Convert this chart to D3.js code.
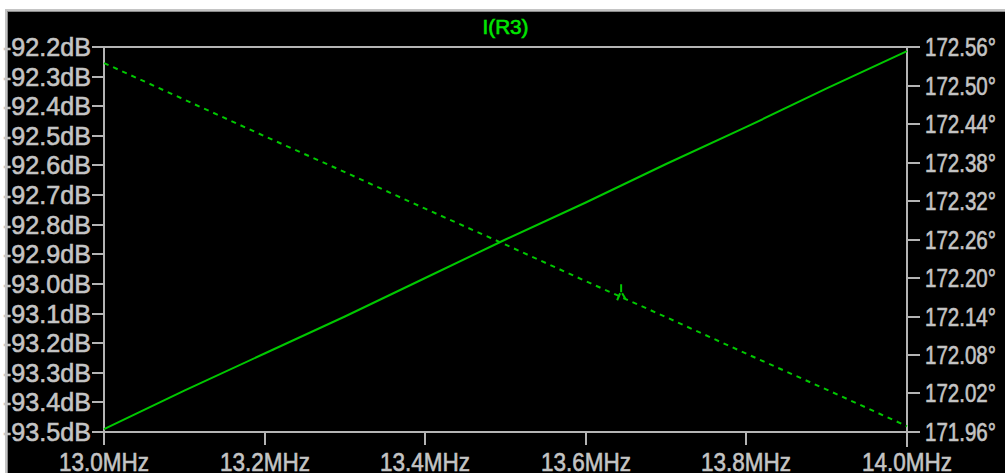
<!DOCTYPE html>
<html>
<head>
<meta charset="utf-8">
<script src="https://cdn.jsdelivr.net/npm/d3@7/dist/d3.min.js"></script>
<style>
  html, body { margin: 0; padding: 0; background: #ffffff; overflow: hidden; }
  svg { display: block; }
  text { font-family: "Liberation Sans", Arial, sans-serif; }
</style>
</head>
<body>
<script>
// AC sweep of I(R3): magnitude (dB, left axis, solid) and phase (deg, right axis, dashed)
const freqMHz   = [13.0, 13.1, 13.2, 13.3, 13.4, 13.5, 13.6, 13.7, 13.8, 13.9, 14.0];
const magDb     = [-93.49, -93.36, -93.235, -93.11, -92.98, -92.85, -92.725, -92.595, -92.47, -92.34, -92.214];
const phaseDeg  = [172.535, 172.478, 172.421, 172.365, 172.308, 172.252, 172.195, 172.139, 172.082, 172.026, 171.969];

// small glitch drawn on the phase trace
const glitchFreq  = 13.644;
const glitchPhase = 172.170;

const xTicks      = [13.0, 13.2, 13.4, 13.6, 13.8, 14.0];
const xTickLabels = ["13.0MHz", "13.2MHz", "13.4MHz", "13.6MHz", "13.8MHz", "14.0MHz"];
const magTicks    = [-92.2, -92.3, -92.4, -92.5, -92.6, -92.7, -92.8, -92.9, -93.0, -93.1, -93.2, -93.3, -93.4, -93.5];
const phaseTicks  = [172.56, 172.50, 172.44, 172.38, 172.32, 172.26, 172.20, 172.14, 172.08, 172.02, 171.96];
const traceTitle  = "I(R3)";

const W = 1005, H = 473;
const plot = { left: 104, right: 907, top: 47, bottom: 432 };

const axisGrey = "#b4b4b4";
const textGrey = "#c4c4c4";
const traceGreen = "#00c800";
const titleGreen = "#00e600";

const svg = d3.select("body").append("svg")
  .attr("width", W).attr("height", H);

// window frame
svg.append("rect").attr("x", 0).attr("y", 0).attr("width", W).attr("height", H).attr("fill", "#ffffff");
svg.append("rect").attr("x", 5).attr("y", 9).attr("width", W).attr("height", H)
  .attr("fill", "#c4c4c4");
svg.append("rect").attr("x", 7).attr("y", 11).attr("width", W).attr("height", H)
  .attr("fill", "#8a8a8a");
svg.append("rect").attr("x", 8).attr("y", 12).attr("width", W).attr("height", H)
  .attr("fill", "#000000");

const x = d3.scaleLinear().domain([13.0, 14.0]).range([plot.left, plot.right]);
const yMag = d3.scaleLinear().domain([-93.5, -92.2]).range([plot.bottom, plot.top]);
const yPh = d3.scaleLinear().domain([171.96, 172.56]).range([plot.bottom, plot.top]);

const fontSize = 25.5;

function label(g, tx, ty, w, str, fill, size) {
  return g.append("text")
    .attr("x", tx).attr("y", ty)
    .attr("font-size", size)
    .attr("fill", fill)
    .attr("stroke", fill).attr("stroke-width", 0.6)
    .attr("textLength", w).attr("lengthAdjust", "spacingAndGlyphs")
    .text(str);
}

// left axis (dB)
const leftAxis = svg.append("g");
leftAxis.append("line")
  .attr("x1", plot.left).attr("x2", plot.left)
  .attr("y1", plot.top).attr("y2", plot.bottom + 13)
  .attr("stroke", axisGrey).attr("stroke-width", 2);
magTicks.forEach(v => {
  const yy = Math.round(yMag(v));
  leftAxis.append("line")
    .attr("x1", plot.left - 12).attr("x2", plot.left)
    .attr("y1", yy).attr("y2", yy)
    .attr("stroke", axisGrey).attr("stroke-width", 2);
  label(leftAxis, 3, yy + 9, 88, v.toFixed(1) + "dB", textGrey, fontSize);
});

// right axis (degrees)
const rightAxis = svg.append("g");
rightAxis.append("line")
  .attr("x1", plot.right).attr("x2", plot.right)
  .attr("y1", plot.top).attr("y2", plot.bottom + 15)
  .attr("stroke", axisGrey).attr("stroke-width", 2);
phaseTicks.forEach(v => {
  const yy = Math.round(yPh(v));
  rightAxis.append("line")
    .attr("x1", plot.right).attr("x2", plot.right + 13)
    .attr("y1", yy).attr("y2", yy)
    .attr("stroke", axisGrey).attr("stroke-width", 2);
  label(rightAxis, 925, yy + 9, 71, v.toFixed(2) + "°", textGrey, fontSize);
});

// top and bottom frame lines of the plot
[plot.top, plot.bottom].forEach(yy => {
  svg.append("line")
    .attr("x1", plot.left - 12).attr("x2", plot.right + 13)
    .attr("y1", yy).attr("y2", yy)
    .attr("stroke", axisGrey).attr("stroke-width", 2);
});

// bottom axis (frequency)
const bottomAxis = svg.append("g");
xTicks.forEach((v, i) => {
  const xx = Math.round(x(v));
  bottomAxis.append("line")
    .attr("x1", xx).attr("x2", xx)
    .attr("y1", plot.bottom).attr("y2", plot.bottom + 13)
    .attr("stroke", axisGrey).attr("stroke-width", 2);
  label(bottomAxis, xx - 45, 471, 90, xTickLabels[i], textGrey, fontSize);
});

// title
label(svg, (plot.left + plot.right) / 2 - 23, 34, 46, traceTitle, titleGreen, 20);

// traces
const magLine = d3.line().x((d, i) => x(freqMHz[i])).y(d => yMag(d));
const phLine = d3.line().x((d, i) => x(freqMHz[i])).y(d => yPh(d));

svg.append("path")
  .datum(magDb)
  .attr("d", magLine)
  .attr("fill", "none")
  .attr("stroke", traceGreen)
  .attr("stroke-width", 2);

svg.append("path")
  .datum(phaseDeg)
  .attr("d", phLine)
  .attr("fill", "none")
  .attr("stroke", traceGreen)
  .attr("stroke-width", 2)
  .attr("stroke-dasharray", "5,5");

// glitch on the phase trace
svg.append("path")
  .attr("transform", `translate(${x(glitchFreq)},${yPh(glitchPhase)})`)
  .attr("d", "M0,-13 L0,-5 M-1,-4 L-4,3 M1,-4 L4,1")
  .attr("fill", "none")
  .attr("stroke", traceGreen)
  .attr("stroke-width", 2);
</script>
</body>
</html>
